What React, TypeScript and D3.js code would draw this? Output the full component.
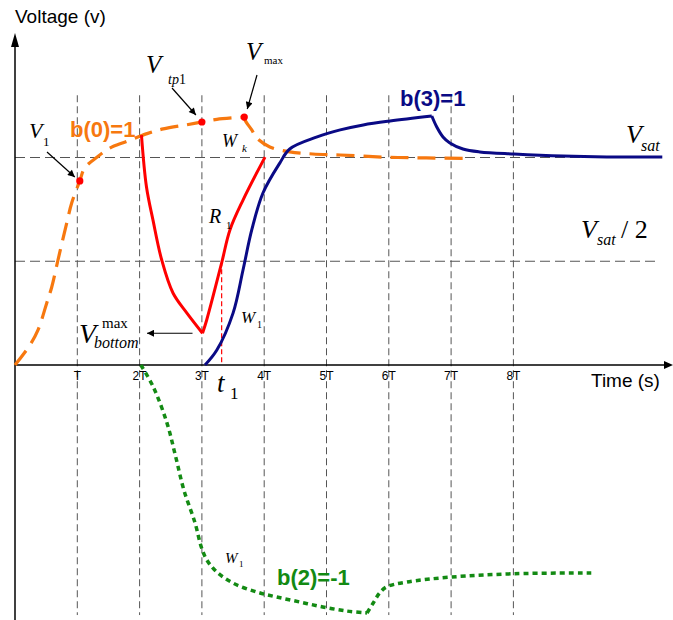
import React from "react";
import * as d3 from "d3";

// Time axis ticks (in units of the period T)
const tickValues = [1, 2, 3, 4, 5, 6, 7, 8];
const tickLabels = ["T", "2T", "3T", "4T", "5T", "6T", "7T", "8T"];

// Reference levels (fractions of Vsat)
const levels = [1, 0.5];

// b(0)=1 response: rising part up to Vmax, then decay towards Vsat
const orangeRise: [number, number][] = [
  [0, 0], [0.24, 0.096], [0.37, 0.169], [0.51, 0.299], [0.59, 0.376], [0.69, 0.506],
  [0.83, 0.684], [0.91, 0.781], [1.04, 0.887], [1.12, 0.95], [1.32, 1.002], [1.52, 1.045],
  [1.77, 1.075], [2.12, 1.115], [2.38, 1.138], [2.76, 1.158], [3.0, 1.171], [3.24, 1.184], [3.68, 1.195],
];
const orangeDecay: [number, number][] = [
  [3.68, 1.195], [3.69, 1.181], [3.8, 1.133], [3.88, 1.094], [4.09, 1.051], [4.41, 1.027],
  [4.78, 1.017], [5.22, 1.012], [5.91, 1.002], [6.6, 0.998], [7.3, 0.996],
];

// Marked samples on the b(0)=1 curve: V1, Vtp1, Vmax
const markerPoints: [number, number][] = [[1.04, 0.887], [3.0, 1.171], [3.68, 1.195]];

// R1 branch: discharge to Vbottom^max then recharge
const redFall: [number, number][] = [
  [2.03, 1.108], [2.11, 0.859], [2.215, 0.698], [2.355, 0.506], [2.536, 0.347], [2.757, 0.251], [3.01, 0.153],
];
const redRise: [number, number][] = [
  [3.01, 0.153], [3.077, 0.217], [3.317, 0.492], [3.45, 0.651], [3.66, 0.795], [4.013, 1.002],
];
const t1 = 3.317;

// b(3)=1 response
const blueRise: [number, number][] = [
  [3.05, 0], [3.24, 0.072], [3.5, 0.25], [3.66, 0.458], [3.8, 0.651], [3.98, 0.829],
  [4.25, 0.973], [4.41, 1.041], [4.85, 1.099], [5.22, 1.133], [5.59, 1.157], [6.02, 1.176], [6.69, 1.2],
];
const blueDecay: [number, number][] = [
  [6.69, 1.2], [6.77, 1.147], [6.87, 1.099], [6.98, 1.07], [7.19, 1.041], [7.46, 1.027],
  [8.01, 1.017], [8.8, 1.007], [9.5, 1.003], [10.39, 1.003],
];

// b(2)=-1 response
const greenFall: [number, number][] = [
  [2.02, 0], [2.22, -0.106], [2.44, -0.28], [2.58, -0.443], [2.71, -0.602], [2.89, -0.761],
  [2.99, -0.877], [3.08, -0.94], [3.24, -0.998], [3.5, -1.051], [3.88, -1.094], [4.2, -1.118],
  [4.57, -1.142], [4.94, -1.166], [5.33, -1.186], [5.65, -1.195],
];
const greenRecover: [number, number][] = [
  [5.65, -1.195], [5.75, -1.147], [5.85, -1.1], [5.96, -1.07], [6.29, -1.046], [7.0, -1.022],
  [8.01, -1.006], [9.25, -1.002],
];

const W = 673;
const H = 620;

const x = d3.scaleLinear().domain([0, 10]).range([15, 638]);
const y = d3.scaleLinear().domain([0, 1]).range([365, 157.5]);

const line = d3
  .line<[number, number]>()
  .x((d) => x(d[0]))
  .y((d) => y(d[1]))
  .curve(d3.curveCatmullRom.alpha(0.5));

const ORANGE = "#f7780f";
const RED = "#ff0000";
const NAVY = "#0a0a85";
const GREEN = "#138a13";
const GRID = "#555";

const serif = "'Liberation Serif', 'Times New Roman', serif";
const sans = "'Liberation Sans', Arial, sans-serif";

export default function App() {
  const x0 = x(0);
  const y0 = y(0);
  const bottom = redFall[redFall.length - 1];
  return (
    <svg
      width={W}
      height={H}
      viewBox={`0 0 ${W} ${H}`}
      style={{ position: "absolute", left: 0, top: 0, background: "#fff", display: "block" }}
    >
      <defs>
        <marker id="arr" viewBox="0 0 10 10" refX="10" refY="5" markerWidth="9" markerHeight="7" markerUnits="userSpaceOnUse" orient="auto">
          <path d="M0,0 L10,5 L0,10 z" fill="#000" />
        </marker>
      </defs>
      <rect width={W} height={H} fill="#fff" />

      {/* vertical grid at multiples of T */}
      {tickValues.map((t) => (
        <line key={"g" + t} x1={x(t)} x2={x(t)} y1={y(1.3)} y2={y(-1.205)} stroke={GRID} strokeWidth={1} strokeDasharray="7 4" />
      ))}
      {/* Vsat and Vsat/2 levels */}
      {levels.map((v) => (
        <line key={"l" + v} x1={x0} x2={x(10.35)} y1={y(v)} y2={y(v)} stroke={GRID} strokeWidth={1} strokeDasharray="10 5" />
      ))}

      {/* axes */}
      <line x1={x0} x2={x0} y1={H} y2={45} stroke="#000" strokeWidth={1.5} />
      <path d={`M${x0 - 4},${47} L${x0},${33} L${x0 + 4},${47} z`} fill="#000" />
      <line x1={x0} x2={W - 8} y1={y0} y2={y0} stroke="#000" strokeWidth={1.5} />
      <path d={`M${W - 9},${y0 - 4} L${W},${y0} L${W - 9},${y0 + 4} z`} fill="#000" />

      {tickValues.map((t, i) => (
        <text key={"t" + t} x={x(t)} y={380} textAnchor="middle" fontFamily={sans} fontSize={12} fill="#000">
          {tickLabels[i]}
        </text>
      ))}
      <text x={15} y={23} fontFamily={sans} fontSize={19} fill="#000">Voltage (v)</text>
      <text x={591} y={387} fontFamily={sans} fontSize={19} fill="#000">Time (s)</text>

      {/* t1 marker */}
      <line x1={x(t1)} x2={x(t1)} y1={y(0.5)} y2={y0} stroke={RED} strokeWidth={1.2} strokeDasharray="5 3" />

      {/* curves */}
      <path d={line(greenFall) ?? ""} fill="none" stroke={GREEN} strokeWidth={3.5} strokeDasharray="5 4" />
      <path d={line(greenRecover) ?? ""} fill="none" stroke={GREEN} strokeWidth={3.5} strokeDasharray="5 4" />
      <path d={line(orangeRise) ?? ""} fill="none" stroke={ORANGE} strokeWidth={3.2} strokeDasharray="18 9" />
      <path d={line(orangeDecay) ?? ""} fill="none" stroke={ORANGE} strokeWidth={3.2} strokeDasharray="18 9" />
      <path d={line(redFall) ?? ""} fill="none" stroke={RED} strokeWidth={3} />
      <path d={line(redRise) ?? ""} fill="none" stroke={RED} strokeWidth={3} />
      <path d={line(blueRise) ?? ""} fill="none" stroke={NAVY} strokeWidth={3} />
      <path d={line(blueDecay) ?? ""} fill="none" stroke={NAVY} strokeWidth={3} />

      {markerPoints.map((p, i) => (
        <circle key={"m" + i} cx={x(p[0])} cy={y(p[1])} r={3.6} fill={RED} />
      ))}

      {/* annotation arrows */}
      <line x1={47} y1={152} x2={x(markerPoints[0][0]) - 5} y2={y(markerPoints[0][1]) - 4} stroke="#000" strokeWidth={1.2} markerEnd="url(#arr)" />
      <line x1={172} y1={88} x2={x(markerPoints[1][0]) - 6} y2={y(markerPoints[1][1]) - 7} stroke="#000" strokeWidth={1.2} markerEnd="url(#arr)" />
      <line x1={257} y1={75} x2={x(markerPoints[2][0]) + 3} y2={y(markerPoints[2][1]) - 8} stroke="#000" strokeWidth={1.2} markerEnd="url(#arr)" />
      <line x1={x(bottom[0]) - 10} y1={y(bottom[1])} x2={147} y2={y(bottom[1])} stroke="#000" strokeWidth={1.2} markerEnd="url(#arr)" />

      {/* symbol labels */}
      <text fontFamily={serif} fill="#000">
        <tspan x={29} y={138} fontSize={22} fontStyle="italic">V</tspan>
        <tspan x={43} y={146} fontSize={13}>1</tspan>
      </text>
      <text fontFamily={serif} fill="#000">
        <tspan x={146} y={73} fontSize={25} fontStyle="italic">V</tspan>
        <tspan x={168} y={84} fontSize={14} fontStyle="italic">tp</tspan>
        <tspan fontSize={14}>1</tspan>
      </text>
      <text fontFamily={serif} fill="#000">
        <tspan x={246} y={60} fontSize={25} fontStyle="italic">V</tspan>
        <tspan x={264} y={64} fontSize={11}>max</tspan>
      </text>
      <text fontFamily={serif} fill="#000">
        <tspan x={222} y={147} fontSize={18} fontStyle="italic">W</tspan>
        <tspan x={242} y={152} fontSize={11} fontStyle="italic">k</tspan>
      </text>
      <text fontFamily={serif} fill="#000">
        <tspan x={209} y={223} fontSize={20} fontStyle="italic">R</tspan>
        <tspan x={226} y={229} fontSize={11}>1</tspan>
      </text>
      <text fontFamily={serif} fill="#000">
        <tspan x={241} y={323} fontSize={17} fontStyle="italic">W</tspan>
        <tspan x={257} y={328} fontSize={10}>1</tspan>
      </text>
      <text fontFamily={serif} fill="#000">
        <tspan x={225} y={563} fontSize={15} fontStyle="italic">W</tspan>
        <tspan x={239} y={567} fontSize={9}>1</tspan>
      </text>
      <text fontFamily={serif} fill="#000">
        <tspan x={79} y={343} fontSize={28} fontStyle="italic">V</tspan>
        <tspan x={102} y={328} fontSize={15}>max</tspan>
        <tspan x={94} y={348} fontSize={16} fontStyle="italic">bottom</tspan>
      </text>
      <text fontFamily={serif} fill="#000">
        <tspan x={626} y={143} fontSize={26} fontStyle="italic">V</tspan>
        <tspan x={641} y={151} fontSize={16} fontStyle="italic">sat</tspan>
      </text>
      <text fontFamily={serif} fill="#000">
        <tspan x={581} y={238} fontSize={26} fontStyle="italic">V</tspan>
        <tspan x={597} y={245} fontSize={16} fontStyle="italic">sat</tspan>
        <tspan x={621} y={238} fontSize={26}>/ 2</tspan>
      </text>
      <text fontFamily={serif} fill="#000">
        <tspan x={217} y={392} fontSize={27} fontStyle="italic">t</tspan>
        <tspan x={230} y={399} fontSize={17}>1</tspan>
      </text>

      {/* series labels */}
      <text x={70} y={137} fontFamily={sans} fontWeight="bold" fontSize={22} fill={ORANGE}>b(0)=1</text>
      <text x={400} y={106} fontFamily={sans} fontWeight="bold" fontSize={22} fill={NAVY}>b(3)=1</text>
      <text x={277} y={585} fontFamily={sans} fontWeight="bold" fontSize={22} fill={GREEN}>b(2)=-1</text>
    </svg>
  );
}
